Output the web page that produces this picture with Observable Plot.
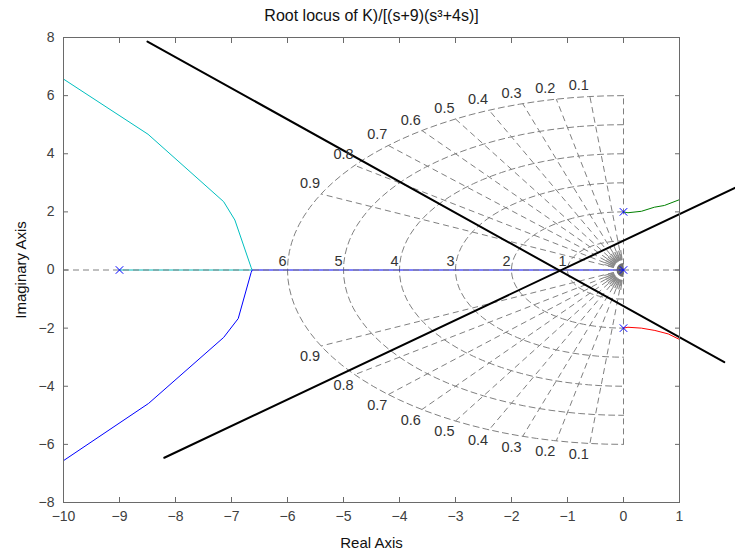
<!DOCTYPE html>
<html>
<head>
<meta charset="utf-8">
<script src="https://cdn.jsdelivr.net/npm/d3@7"></script>
<script src="https://cdn.jsdelivr.net/npm/@observablehq/plot@0.6"></script>
<style>
  html, body { margin: 0; padding: 0; background: #fff; }
</style>
</head>
<body>
<div id="chart"></div>
<script>
// ---- data ----
const xTicks = [-10, -9, -8, -7, -6, -5, -4, -3, -2, -1, 0, 1];
const yTicks = [-8, -6, -4, -2, 0, 2, 4, 6, 8];
const zetaValues = [0.1, 0.2, 0.3, 0.4, 0.5, 0.6, 0.7, 0.8, 0.9];
const wnValues = [1, 2, 3, 4, 5, 6];
const gridRadius = 6;

const poleX = [-9, 0, 0, 0];
const poleY = [0, 2, -2, 0];

const cyanX = [-9, -6.63, -6.65, -6.94, -7.14, -8.49, -10];
const cyanY = [0, 0, 0.09, 1.72, 2.35, 4.67, 6.57];
const blueX = [0, -6.63, -6.65, -6.88, -7.14, -8.48, -10];
const blueY = [0, 0, -0.09, -1.67, -2.32, -4.59, -6.56];
const greenX = [0, 0.08, 0.32, 0.55, 0.73, 1.0];
const greenY = [2, 1.97, 2.02, 2.16, 2.22, 2.42];
const redX = [0, 0.08, 0.32, 0.56, 0.80, 1.0];
const redY = [-2, -1.97, -2.0, -2.08, -2.2, -2.39];

const line1X = [-8.5, 1.8];
const line1Y = [7.86, -3.17];
const line2X = [-8.2, 2.02];
const line2Y = [-6.46, 2.85];

const fanAngles = [98, 104, 110, 116, 122, 128, 134, 140, 146, 152, 158, 164];

const title = "Root locus of K)/[(s+9)(s\u00b3+4s)]";
const xLabel = "Real Axis";
const yLabel = "Imaginary Axis";

// ---- helpers ----
const pts = (xs, ys) => xs.map((x, i) => ({x, y: ys[i]}));

const arcs = wnValues.flatMap(wn =>
  d3.range(0, 181, 3).map(a => {
    const t = (90 + a) * Math.PI / 180;
    return {wn, x: wn * Math.cos(t), y: wn * Math.sin(t)};
  })
);

const rays = zetaValues.flatMap(z => [1, -1].map(s => ({
  z, s, x2: -z * gridRadius, y2: s * Math.sqrt(1 - z * z) * gridRadius
})));

const fanSymbol = {
  draw(ctx) {
    for (const a of fanAngles) {
      for (const s of [1, -1]) {
        const t = a * Math.PI / 180;
        const c = Math.cos(t), n = Math.sin(t) * s;
        ctx.moveTo(10 * c, -10 * n);
        ctx.lineTo(20 * c, -20 * n);
      }
    }
  }
};
const halfDisk = {
  draw(ctx) {
    const r = 7;
    ctx.moveTo(0, -r);
    ctx.arc(0, 0, r, -Math.PI / 2, Math.PI / 2, true);
    ctx.closePath();
  }
};

const gray = "#808080";
const dash = "6,4";
const axisGray = "#6a6a6a";

const chart = Plot.plot({
  width: 735,
  height: 554,
  marginLeft: 63,
  marginRight: 56,
  marginTop: 37,
  marginBottom: 52,
  x: {domain: [-10, 1]},
  y: {domain: [-8, 8]},
  style: {fontFamily: "'Liberation Sans', Arial, sans-serif", fontSize: "14px", background: "#fff", overflow: "visible"},
  marks: [
    // s-grid
    Plot.line(arcs, {x: "x", y: "y", z: "wn", stroke: gray, strokeWidth: 1, strokeDasharray: dash}),
    Plot.link(rays, {x1: 0, y1: 0, x2: "x2", y2: "y2", stroke: gray, strokeWidth: 1, strokeDasharray: dash}),
    Plot.link([gridRadius], {x1: 0, x2: 0, y1: d => -d, y2: d => d, stroke: gray, strokeWidth: 1, strokeDasharray: dash}),
    Plot.dot([0], {x: 0, y: 0, symbol: fanSymbol, stroke: "#8a8a8a", strokeWidth: 1.2, fill: "none"}),
    Plot.dot([0], {x: 0, y: 0, symbol: halfDisk, fill: "#6e6e6e", stroke: "none"}),
    // root locus branches
    Plot.line(pts(cyanX, cyanY), {x: "x", y: "y", stroke: "#00bfbf", strokeWidth: 1}),
    Plot.line(pts(blueX, blueY), {x: "x", y: "y", stroke: "#0000ff", strokeWidth: 1}),
    Plot.line(pts(greenX, greenY), {x: "x", y: "y", stroke: "#008000", strokeWidth: 1}),
    Plot.line(pts(redX, redY), {x: "x", y: "y", stroke: "#ff0000", strokeWidth: 1}),
    // real axis dashed line
    Plot.ruleY([0], {stroke: gray, strokeWidth: 1, strokeDasharray: dash}),
    // black lines
    Plot.line(pts(line1X, line1Y), {x: "x", y: "y", stroke: "#000", strokeWidth: 2}),
    Plot.line(pts(line2X, line2Y), {x: "x", y: "y", stroke: "#000", strokeWidth: 2}),
    // poles
    Plot.dot(pts(poleX, poleY), {x: "x", y: "y", symbol: "times", stroke: "#0000ff", r: 3.5, strokeWidth: 1}),
    // grid labels
    Plot.text(zetaValues, {x: z => -z * gridRadius, y: z => Math.sqrt(1 - z * z) * gridRadius, text: d => String(d),
      textAnchor: "end", lineAnchor: "bottom", dx: -1, dy: -6, fontSize: 14.5, fill: "#333"}),
    Plot.text(zetaValues, {x: z => -z * gridRadius, y: z => -Math.sqrt(1 - z * z) * gridRadius, text: d => String(d),
      textAnchor: "end", lineAnchor: "top", dx: -1, dy: 5, fontSize: 14.5, fill: "#333"}),
    Plot.text(wnValues, {x: w => -w, y: 0, text: d => String(d),
      textAnchor: "end", lineAnchor: "bottom", dx: -1, dy: -4, fontSize: 14.5, fill: "#333"}),
    // frame and axes
    Plot.frame({stroke: axisGray, strokeWidth: 1}),
    Plot.axisX({ticks: xTicks, anchor: "bottom", tickSize: 5, dy: -5, text: null, label: null, stroke: axisGray}),
    Plot.axisX({ticks: xTicks, anchor: "top", tickSize: 5, dy: 5, text: null, label: null, stroke: axisGray}),
    Plot.axisY({ticks: yTicks, anchor: "left", tickSize: 5, dx: 5, text: null, label: null, stroke: axisGray}),
    Plot.axisY({ticks: yTicks, anchor: "right", tickSize: 5, dx: -5, text: null, label: null, stroke: axisGray}),
    Plot.axisX({ticks: xTicks, anchor: "bottom", tickSize: 0, tickPadding: 9, label: null, fill: "#404040", fontSize: 14}),
    Plot.axisY({ticks: yTicks, anchor: "left", tickSize: 0, tickPadding: 9, label: null, fill: "#404040", fontSize: 14}),
    // titles
    Plot.text([title], {frameAnchor: "top", textAnchor: "middle", dy: -22, lineAnchor: "middle", fontSize: 16, fill: "#111"}),
    Plot.text([xLabel], {frameAnchor: "bottom", textAnchor: "middle", dy: 41, lineAnchor: "middle", fontSize: 15, fill: "#111"}),
    Plot.text([yLabel], {frameAnchor: "left", textAnchor: "middle", dx: -42, rotate: -90, lineAnchor: "middle", fontSize: 15, fill: "#111"})
  ]
});
document.getElementById("chart").appendChild(chart);
</script>
</body>
</html>
